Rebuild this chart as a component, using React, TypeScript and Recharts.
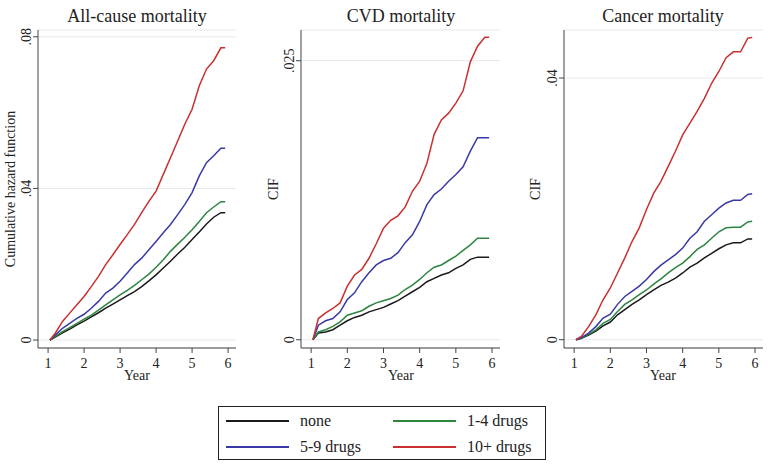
import React from "react";
import { LineChart, Line, XAxis, YAxis, CartesianGrid } from "recharts";

// Follow-up time grid (years)
const years = [1.05, 1.2, 1.4, 1.6, 1.8, 2.0, 2.2, 2.4, 2.6, 2.8, 3.0, 3.2, 3.4, 3.6, 3.8, 4.0, 4.2, 4.4, 4.6, 4.8, 5.0, 5.2, 5.4, 5.6, 5.8, 5.92];

// All-cause mortality (cumulative hazard)
const allNone = [0, 0.0008, 0.0019, 0.0029, 0.004, 0.005, 0.0061, 0.0072, 0.0084, 0.0095, 0.0106, 0.0117, 0.0128, 0.0141, 0.0156, 0.0172, 0.019, 0.0208, 0.0227, 0.0245, 0.0265, 0.0285, 0.0306, 0.0324, 0.0336, 0.0336];
const all14 = [0, 0.0009, 0.0022, 0.0033, 0.0044, 0.0055, 0.0066, 0.0079, 0.0093, 0.0106, 0.0119, 0.0131, 0.0144, 0.0159, 0.0174, 0.0192, 0.0212, 0.0234, 0.0253, 0.0271, 0.0291, 0.0313, 0.0336, 0.0351, 0.0365, 0.0365];
const all59 = [0, 0.0013, 0.0031, 0.0044, 0.0057, 0.0068, 0.0084, 0.0102, 0.0124, 0.0137, 0.0155, 0.0177, 0.0199, 0.0216, 0.0238, 0.026, 0.0283, 0.0305, 0.0331, 0.0358, 0.0389, 0.0433, 0.0468, 0.0486, 0.0506, 0.0506];
const all10 = [0, 0.0018, 0.0049, 0.0071, 0.0093, 0.0115, 0.0141, 0.0168, 0.0199, 0.0225, 0.0252, 0.0278, 0.0305, 0.0336, 0.0366, 0.0393, 0.0437, 0.0481, 0.0525, 0.057, 0.0609, 0.0671, 0.0715, 0.0737, 0.0771, 0.0771];

// CVD mortality (CIF)
const cvdNone = [0, 0.0006, 0.0007, 0.0009, 0.0013, 0.0017, 0.002, 0.0022, 0.0025, 0.0027, 0.0029, 0.0032, 0.0035, 0.0039, 0.0043, 0.0047, 0.0052, 0.0055, 0.0058, 0.006, 0.0064, 0.0067, 0.0072, 0.0074, 0.0074, 0.0074];
const cvd14 = [0, 0.0007, 0.0009, 0.0012, 0.0016, 0.0022, 0.0024, 0.0026, 0.003, 0.0033, 0.0035, 0.0037, 0.004, 0.0045, 0.0049, 0.0054, 0.006, 0.0065, 0.0067, 0.0071, 0.0075, 0.008, 0.0085, 0.0091, 0.0091, 0.0091];
const cvd59 = [0, 0.0013, 0.0017, 0.0019, 0.0025, 0.0036, 0.0042, 0.0052, 0.006, 0.0067, 0.0071, 0.0073, 0.0078, 0.0087, 0.0094, 0.0106, 0.0121, 0.013, 0.0135, 0.0142, 0.0148, 0.0155, 0.0169, 0.0181, 0.0181, 0.0181];
const cvd10 = [0, 0.0019, 0.0024, 0.0028, 0.0033, 0.0048, 0.0058, 0.0063, 0.0073, 0.0086, 0.01, 0.0107, 0.0111, 0.0119, 0.0133, 0.0142, 0.0158, 0.0184, 0.0197, 0.0203, 0.0212, 0.0223, 0.0249, 0.0263, 0.0271, 0.0271];

// Cancer mortality (CIF)
const canNone = [0, 0.0002, 0.0007, 0.0013, 0.0021, 0.0027, 0.0038, 0.0046, 0.0054, 0.0061, 0.0069, 0.0076, 0.0083, 0.0088, 0.0094, 0.0102, 0.0111, 0.0117, 0.0125, 0.0132, 0.0139, 0.0145, 0.0148, 0.0148, 0.0154, 0.0154];
const can14 = [0, 0.0002, 0.0008, 0.0015, 0.0025, 0.0031, 0.0043, 0.0054, 0.0061, 0.0069, 0.0076, 0.0085, 0.0093, 0.0102, 0.011, 0.0117, 0.0127, 0.0138, 0.0145, 0.0155, 0.0165, 0.0171, 0.0172, 0.0172, 0.018, 0.0181];
const can59 = [0, 0.0003, 0.001, 0.002, 0.0033, 0.0039, 0.0054, 0.0066, 0.0074, 0.0082, 0.0092, 0.0104, 0.0114, 0.0122, 0.013, 0.014, 0.0155, 0.0165, 0.0181, 0.0191, 0.0201, 0.0209, 0.0213, 0.0213, 0.0222, 0.0223];
const can10 = [0, 0.0005, 0.002, 0.0038, 0.0061, 0.0079, 0.0102, 0.0125, 0.015, 0.0171, 0.0199, 0.0224, 0.0242, 0.0265, 0.0288, 0.0313, 0.0331, 0.0349, 0.0369, 0.0392, 0.041, 0.0431, 0.044, 0.044, 0.0461, 0.0462];

const xTicks = [1, 2, 3, 4, 5, 6];
const seriesNames = ["none", "1-4 drugs", "5-9 drugs", "10+ drugs"];
const seriesColors = ["#1a1a1a", "#2e8540", "#3a3aa6", "#c9302f"];
const seriesKeys = ["s0", "s1", "s2", "s3"];

const FONT = "'Liberation Serif', 'DejaVu Serif', serif";

type PanelCfg = {
  title: string;
  yLabel: string;
  values: number[][];
  domain: [number, number];
  yTicks: number[];
  left: number;
  width: number;
  marginLeft: number;
  marginRight: number;
};

const panels: PanelCfg[] = [
  { title: "All-cause mortality", yLabel: "Cumulative hazard function", values: [allNone, all14, all59, all10], domain: [-0.0021, 0.0818], yTicks: [0, 0.04, 0.08], left: 0, width: 245, marginLeft: 8, marginRight: 9 },
  { title: "CVD mortality", yLabel: "CIF", values: [cvdNone, cvd14, cvd59, cvd10], domain: [-0.00074, 0.02775], yTicks: [0, 0.025], left: 255, width: 250, marginLeft: 16, marginRight: 5 },
  { title: "Cancer mortality", yLabel: "CIF", values: [canNone, can14, can59, can10], domain: [-0.00127, 0.04734], yTicks: [0, 0.04], left: 510, width: 258, marginLeft: 24, marginRight: 5 },
];

const fmt = (v: number) => (v === 0 ? "0" : String(v).replace(/^0/, ""));

const YTick = (props: any) => {
  const { x, y, payload } = props;
  return (
    <text x={x} y={y} transform={`rotate(-90, ${x}, ${y})`} textAnchor="middle" fontFamily={FONT} fontSize={14} fill="#222">
      {fmt(payload.value)}
    </text>
  );
};

const XTick = (props: any) => {
  const { x, y, payload } = props;
  return (
    <text x={x} y={y + 13} textAnchor="middle" fontFamily={FONT} fontSize={14} fill="#222">
      {payload.value}
    </text>
  );
};

const CHART_H = 400;
const PLOT_TOP = 30;
const PLOT_BOTTOM = 348;
const Y_AXIS_W = 30;

function Panel({ cfg }: { cfg: PanelCfg }) {
  const data = years.map((t, i) => {
    const row: any = { t };
    seriesKeys.forEach((k, j) => (row[k] = cfg.values[j][i]));
    return row;
  });
  return (
    <div style={{ position: "absolute", left: cfg.left, top: 0 }}>
      <LineChart
        width={cfg.width}
        height={CHART_H}
        data={data}
        margin={{ top: PLOT_TOP, right: cfg.marginRight, left: cfg.marginLeft, bottom: CHART_H - PLOT_BOTTOM - 30 }}
      >
        <CartesianGrid vertical={false} stroke="#e8e8e8" strokeWidth={1} />
        <XAxis
          dataKey="t"
          type="number"
          domain={[0.72, 6.22]}
          ticks={xTicks}
          allowDataOverflow
          height={30}
          tickSize={5}
          tick={<XTick />}
          axisLine={{ stroke: "#444" }}
          tickLine={{ stroke: "#444" }}
        />
        <YAxis
          type="number"
          domain={cfg.domain}
          ticks={cfg.yTicks}
          allowDataOverflow
          width={Y_AXIS_W}
          tickSize={5}
          tickMargin={2}
          tick={<YTick />}
          axisLine={{ stroke: "#444" }}
          tickLine={{ stroke: "#444" }}
        />
        {seriesKeys.map((k, j) => (
          <Line
            key={k}
            type="linear"
            dataKey={k}
            stroke={seriesColors[j]}
            strokeWidth={1.5}
            dot={false}
            isAnimationActive={false}
          />
        ))}
      </LineChart>
    </div>
  );
}

const titleX = [137, 401, 663];
const yearX = [137, 401, 663];
const yLabelX = [15, 278, 540];

export default function App() {
  const legendItems = [
    { i: 0, x: 226, y: 421 },
    { i: 1, x: 393, y: 421 },
    { i: 2, x: 226, y: 447 },
    { i: 3, x: 393, y: 447 },
  ];
  return (
    <div style={{ position: "absolute", left: 0, top: 0, width: 768, height: 465, background: "#fff", overflow: "hidden" }}>
      {panels.map((p, i) => (
        <Panel key={i} cfg={p} />
      ))}
      <svg width={768} height={465} style={{ position: "absolute", left: 0, top: 0, pointerEvents: "none" }}>
        {panels.map((p, i) => (
          <g key={i} fontFamily={FONT} fill="#222">
            <text x={titleX[i]} y={22} textAnchor="middle" fontSize={18}>{p.title}</text>
            <text x={yearX[i]} y={380} textAnchor="middle" fontSize={14}>Year</text>
            <text x={yLabelX[i]} y={189} textAnchor="middle" fontSize={14} transform={`rotate(-90, ${yLabelX[i]}, 189)`}>{p.yLabel}</text>
          </g>
        ))}
        <rect x={218.5} y={406.5} width={327} height={53} fill="none" stroke="#222" strokeWidth={1} />
        {legendItems.map((it) => (
          <g key={it.i}>
            <line x1={it.x} x2={it.x + 63} y1={it.y} y2={it.y} stroke={seriesColors[it.i]} strokeWidth={2} />
            <text x={it.x + 74} y={it.y + 5} fontFamily={FONT} fontSize={16} fill="#222">{seriesNames[it.i]}</text>
          </g>
        ))}
      </svg>
    </div>
  );
}
